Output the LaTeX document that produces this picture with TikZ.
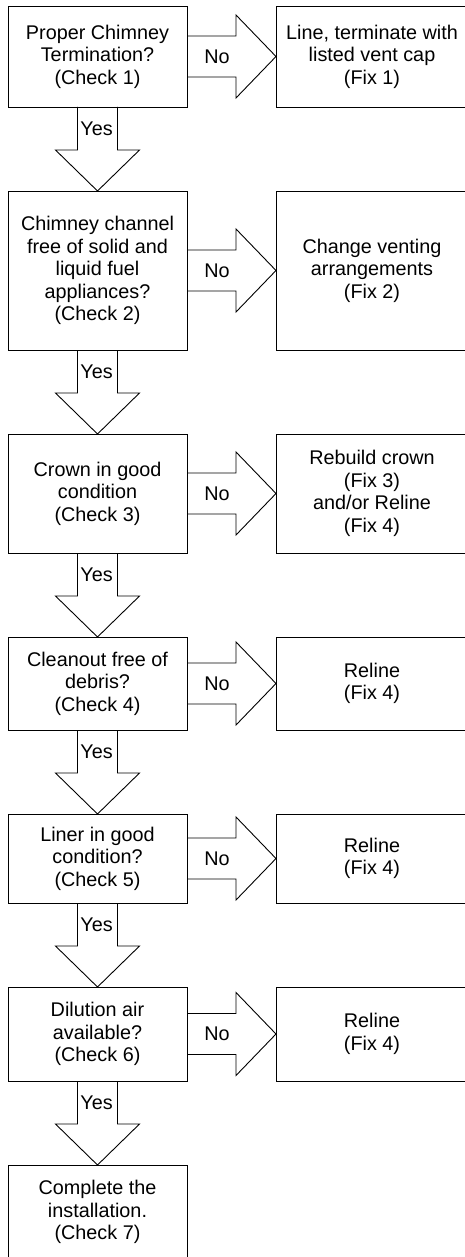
\documentclass[tikz,border=0pt]{standalone}
\usepackage{fontspec}
\setmainfont{Liberation Sans}
\usetikzlibrary{positioning}
\begin{document}
\begin{tikzpicture}[
    x=1pt, y=-1pt,
    box/.style={rectangle, draw, line width=0.9pt, outer sep=0pt, inner sep=2pt, align=center, font=\fontsize{19.8}{22.5}\selectfont},
    check/.style={box, minimum width=179pt},
    fix/.style={box, minimum width=192pt},
    lbl/.style={inner sep=0pt, font=\fontsize{19.8}{22.5}\selectfont},
    arrow/.style={line width=0.9pt, line join=miter}
]
\useasboundingbox (0,0) rectangle (465,1257);
\clip (0,0) rectangle (465,1257);

% Checks
\node[check, minimum height=101pt, anchor=north west] at (8,6) (c1) {Proper Chimney\\Termination?\\(Check 1)};
\node[check, minimum height=159pt, below=84pt of c1] (c2) {Chimney channel\\free of solid and\\liquid fuel\\appliances?\\(Check 2)};
\node[check, minimum height=119pt, below=84pt of c2] (c3) {Crown in good\\condition\\(Check 3)};
\node[check, minimum height=93pt, below=84pt of c3] (c4) {Cleanout free of\\debris?\\(Check 4)};
\node[check, minimum height=89pt, below=84pt of c4] (c5) {Liner in good\\condition?\\(Check 5)};
\node[check, minimum height=94pt, below=84pt of c5] (c6) {Dilution air\\available?\\(Check 6)};
\node[check, minimum height=94pt, below=84pt of c6] (c7) {Complete the\\installation.\\(Check 7)};

% Fixes
\node[fix, minimum height=101pt, right=89pt of c1] (f1) {Line, terminate with\\listed vent cap\\(Fix 1)};
\node[fix, minimum height=159pt, right=89pt of c2] (f2) {Change venting\\arrangements\\(Fix 2)};
\node[fix, minimum height=119pt, right=89pt of c3] (f3) {Rebuild crown\\(Fix 3)\\and/or Reline\\(Fix 4)};
\node[fix, minimum height=93pt, right=89pt of c4] (f4) {Reline\\(Fix 4)};
\node[fix, minimum height=89pt, right=89pt of c5] (f5) {Reline\\(Fix 4)};
\node[fix, minimum height=94pt, right=89pt of c6] (f6) {Reline\\(Fix 4)};

% No arrows
\draw[arrow] (c1.east) ++(0,-20.5) -- ++(49,0) -- ++(0,-21) -- (f1.west) -- ++(-40,41.5) -- ++(0,-21) -- ++(-49,0);
\draw[arrow] (c2.east) ++(0,-20.5) -- ++(49,0) -- ++(0,-21) -- (f2.west) -- ++(-40,41.5) -- ++(0,-21) -- ++(-49,0);
\draw[arrow] (c3.east) ++(0,-20.5) -- ++(49,0) -- ++(0,-21) -- (f3.west) -- ++(-40,41.5) -- ++(0,-21) -- ++(-49,0);
\draw[arrow] (c4.east) ++(0,-20.5) -- ++(49,0) -- ++(0,-21) -- (f4.west) -- ++(-40,41.5) -- ++(0,-21) -- ++(-49,0);
\draw[arrow] (c5.east) ++(0,-20.5) -- ++(49,0) -- ++(0,-21) -- (f5.west) -- ++(-40,41.5) -- ++(0,-21) -- ++(-49,0);
\draw[arrow] (c6.east) ++(0,-20.5) -- ++(49,0) -- ++(0,-21) -- (f6.west) -- ++(-40,41.5) -- ++(0,-21) -- ++(-49,0);
\path (c1.east) ++(30,0) node[lbl] (no1) {No};
\path (c2.east) ++(30,0) node[lbl] (no2) {No};
\path (c3.east) ++(30,0) node[lbl] (no3) {No};
\path (c4.east) ++(30,0) node[lbl] (no4) {No};
\path (c5.east) ++(30,0) node[lbl] (no5) {No};
\path (c6.east) ++(30,0) node[lbl] (no6) {No};

% Yes arrows
\draw[arrow] (c1.south) ++(-20,0) -- ++(0,43) -- ++(-22,0) -- (c2.north) -- ++(42,-41) -- ++(-22,0) -- ++(0,-43);
\draw[arrow] (c2.south) ++(-20,0) -- ++(0,43) -- ++(-22,0) -- (c3.north) -- ++(42,-41) -- ++(-22,0) -- ++(0,-43);
\draw[arrow] (c3.south) ++(-20,0) -- ++(0,43) -- ++(-22,0) -- (c4.north) -- ++(42,-41) -- ++(-22,0) -- ++(0,-43);
\draw[arrow] (c4.south) ++(-20,0) -- ++(0,43) -- ++(-22,0) -- (c5.north) -- ++(42,-41) -- ++(-22,0) -- ++(0,-43);
\draw[arrow] (c5.south) ++(-20,0) -- ++(0,43) -- ++(-22,0) -- (c6.north) -- ++(42,-41) -- ++(-22,0) -- ++(0,-43);
\draw[arrow] (c6.south) ++(-20,0) -- ++(0,43) -- ++(-22,0) -- (c7.north) -- ++(42,-41) -- ++(-22,0) -- ++(0,-43);
\path (c1.south) ++(-1,21.5) node[lbl] (yes1) {Yes};
\path (c2.south) ++(-1,21.5) node[lbl] (yes2) {Yes};
\path (c3.south) ++(-1,21.5) node[lbl] (yes3) {Yes};
\path (c4.south) ++(-1,21.5) node[lbl] (yes4) {Yes};
\path (c5.south) ++(-1,21.5) node[lbl] (yes5) {Yes};
\path (c6.south) ++(-1,21.5) node[lbl] (yes6) {Yes};

\end{tikzpicture}
\end{document}
